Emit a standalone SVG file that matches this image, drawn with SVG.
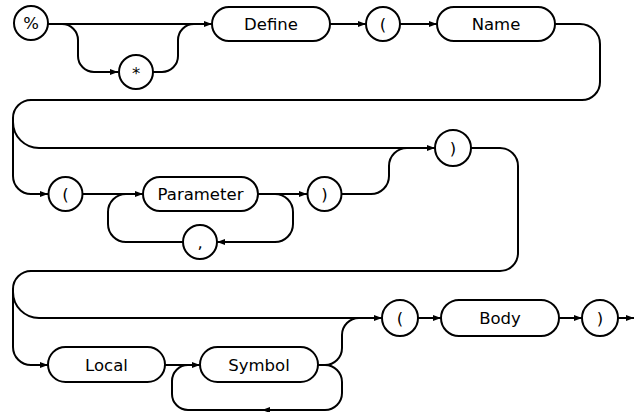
<svg xmlns="http://www.w3.org/2000/svg" width="634" height="412" viewBox="0 0 634 412">
<style>
.n{fill:#fff;stroke:#000;stroke-width:2}
.c{fill:none;stroke:#000;stroke-width:2}
.t{font-family:"DejaVu Sans",sans-serif;font-size:16.5px;text-anchor:middle;fill:#000}
</style>
<defs>
<marker id="a" markerUnits="userSpaceOnUse" markerWidth="9" markerHeight="7" refX="8" refY="3.5" orient="auto">
<path d="M0,0.5 L8,3.5 L0,6.5 z" fill="#000"/>
</marker>
</defs>
<rect width="634" height="412" fill="#fff"/>
<g id="connectors" class="c">
<path d="M48,24 H212" marker-end="url(#a)"/>
<path d="M62,24 A16,16 0 0 1 78,40 V56 A16,16 0 0 0 94,72 H118" marker-end="url(#a)"/>
<path d="M153,72 H162 A16,16 0 0 0 178,56 V40 A16,16 0 0 1 194,24"/>
<path d="M330,24 H366" marker-end="url(#a)"/>
<path d="M400,24 H437" marker-end="url(#a)"/>
<path d="M555,24 H580 A20,20 0 0 1 600,44 V82 A18,18 0 0 1 582,100 H31 A18,18 0 0 0 13,118 V176 A18,18 0 0 0 31,194 H48" marker-end="url(#a)"/>
<path d="M13,122 A26,26 0 0 0 39,148 H435" marker-end="url(#a)"/>
<path d="M83,194 H143" marker-end="url(#a)"/>
<path d="M183,242 H126 A18,18 0 0 1 108,224 V212 A18,18 0 0 1 126,194"/>
<path d="M258,194 H307" marker-end="url(#a)"/>
<path d="M275,194 A18,18 0 0 1 293,212 V224 A18,18 0 0 1 275,242 H217" marker-end="url(#a)"/>
<path d="M342,194 H371 A18,18 0 0 0 389,176 V166 A18,18 0 0 1 407,148"/>
<path d="M471,148 H500 A18,18 0 0 1 518,166 V253 A18,18 0 0 1 500,271 H31 A18,18 0 0 0 13,289 V347 A18,18 0 0 0 31,365 H48" marker-end="url(#a)"/>
<path d="M13,292 A26,26 0 0 0 39,318 H382" marker-end="url(#a)"/>
<path d="M165,365 H200" marker-end="url(#a)"/>
<path d="M262,410 H188 A16,16 0 0 1 172,394 V381 A16,16 0 0 1 188,365"/>
<path d="M318,365 H325 A17,17 0 0 0 342,348 V335 A17,17 0 0 1 359,318"/>
<path d="M325,365 A17,17 0 0 1 342,382 V393 A17,17 0 0 1 325,410 H262" marker-end="url(#a)"/>
<path d="M418,318 H441" marker-end="url(#a)"/>
<path d="M559,318 H582" marker-end="url(#a)"/>
<path d="M618,318 H634" marker-end="url(#a)"/>
</g>
<g id="percent"><circle class="n" cx="31" cy="23" r="17"/><text class="t" x="31" y="29">%</text></g>
<g id="star"><circle class="n" cx="136" cy="72" r="17"/><text class="t" x="136" y="79">*</text></g>
<g id="define"><rect class="n" x="212" y="7" width="118" height="34" rx="17"/><text class="t" x="271" y="30">Define</text></g>
<g id="lparen1"><circle class="n" cx="383" cy="24" r="17"/><text class="t" x="383" y="30">(</text></g>
<g id="name"><rect class="n" x="437" y="7" width="118" height="34" rx="17"/><text class="t" x="496" y="30">Name</text></g>
<g id="lparen2"><circle class="n" cx="65.5" cy="194" r="17"/><text class="t" x="65.5" y="200">(</text></g>
<g id="parameter"><rect class="n" x="143" y="177" width="115" height="34" rx="17"/><text class="t" x="200.5" y="200">Parameter</text></g>
<g id="comma"><circle class="n" cx="200" cy="242" r="17"/><text class="t" x="200" y="248">,</text></g>
<g id="rparen1"><circle class="n" cx="324.5" cy="194" r="17"/><text class="t" x="324.5" y="200">)</text></g>
<g id="rparen2"><circle class="n" cx="453" cy="148" r="18"/><text class="t" x="453" y="154">)</text></g>
<g id="local"><rect class="n" x="48" y="347" width="117" height="35" rx="17.5"/><text class="t" x="106.5" y="371">Local</text></g>
<g id="symbol"><rect class="n" x="200" y="347" width="118" height="35" rx="17.5"/><text class="t" x="259" y="371">Symbol</text></g>
<g id="lparen3"><circle class="n" cx="400" cy="318" r="18"/><text class="t" x="400" y="324">(</text></g>
<g id="body"><rect class="n" x="441" y="300" width="118" height="36" rx="18"/><text class="t" x="500" y="324">Body</text></g>
<g id="rparen3"><circle class="n" cx="600" cy="318" r="18"/><text class="t" x="600" y="324">)</text></g>
</svg>
